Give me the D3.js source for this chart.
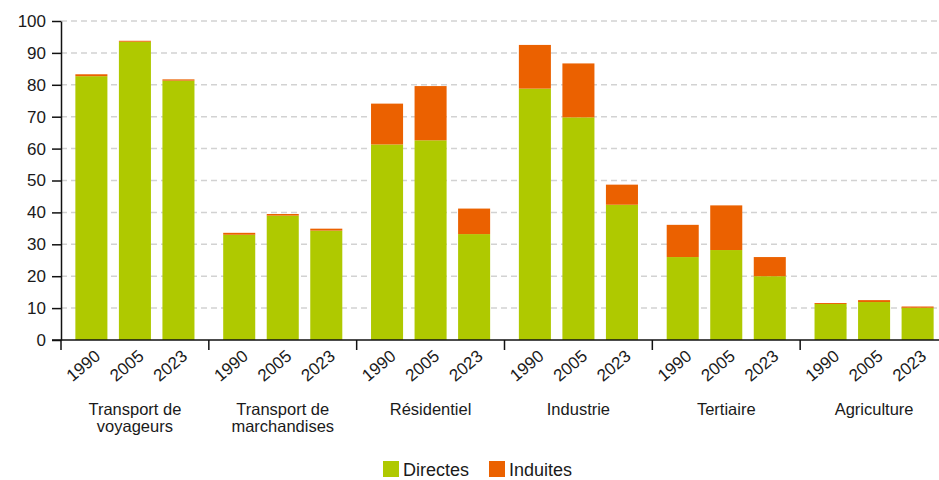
<!DOCTYPE html>
<html>
<head>
<meta charset="utf-8">
<script src="https://cdn.jsdelivr.net/npm/d3@7"></script>
<style>
  body { margin: 0; background: #fff; }
  text { font-family: "Liberation Sans", Arial, sans-serif; fill: #1a1a1a; }
</style>
</head>
<body>
<div class="chart"></div>
<script>
const categories = ["Transport de voyageurs", "Transport de marchandises", "Résidentiel", "Industrie", "Tertiaire", "Agriculture"];
const categoryLines = [["Transport de", "voyageurs"], ["Transport de", "marchandises"], ["Résidentiel"], ["Industrie"], ["Tertiaire"], ["Agriculture"]];
const years = ["1990", "2005", "2023"];
// values per category, in year order
const directes = [
  [82.7, 93.5, 81.3],
  [33.0, 39.0, 34.3],
  [61.3, 62.6, 33.2],
  [78.8, 69.8, 42.4],
  [26.0, 28.2, 20.0],
  [11.3, 11.9, 10.1]
];
const induites = [
  [0.6, 0.3, 0.4],
  [0.6, 0.5, 0.6],
  [12.8, 17.0, 8.0],
  [13.7, 16.9, 6.3],
  [10.1, 14.0, 6.0],
  [0.3, 0.6, 0.4]
];
const yTicks = [0, 10, 20, 30, 40, 50, 60, 70, 80, 90, 100];
const seriesNames = ["Directes", "Induites"];
const colors = ["#afc900", "#eb6100"];

const W = 939, H = 480;
const margin = { left: 61, right: 948, top: 21, bottom: 340 };

const svg = d3.select(".chart").append("svg")
  .attr("width", W).attr("height", H);

const y = d3.scaleLinear().domain([0, 100]).range([margin.bottom, margin.top]);
const xGroup = d3.scaleBand().domain(categories).range([margin.left, margin.right]).padding(0);
const xYear = d3.scaleBand().domain(years).range([0, xGroup.bandwidth()])
  .paddingInner(0.264).paddingOuter(0.33);

// grid
svg.append("g")
  .selectAll("line")
  .data(yTicks.filter(d => d > 0))
  .enter()
  .append("line")
  .attr("x1", margin.left).attr("x2", W)
  .attr("y1", d => y(d)).attr("y2", d => y(d))
  .attr("stroke", "#d2d2d2")
  .attr("stroke-width", 1.5)
  .attr("stroke-dasharray", "6,4");

// bars
const rows = [];
categories.forEach((c, i) => {
  years.forEach((yr, j) => {
    rows.push({ cat: c, year: yr, d: directes[i][j], ind: induites[i][j] });
  });
});

const bars = svg.append("g").selectAll("g").data(rows).enter().append("g")
  .attr("transform", d => `translate(${xGroup(d.cat) + xYear(d.year)},0)`);

bars.append("rect")
  .attr("y", d => y(d.d))
  .attr("height", d => y(0) - y(d.d))
  .attr("width", xYear.bandwidth())
  .attr("fill", colors[0]);

bars.append("rect")
  .attr("y", d => y(d.d + d.ind))
  .attr("height", d => y(d.d) - y(d.d + d.ind))
  .attr("width", xYear.bandwidth())
  .attr("fill", colors[1]);

// y axis
const yAxis = svg.append("g")
  .attr("transform", `translate(${margin.left},0)`)
  .call(d3.axisLeft(y).tickValues(yTicks).tickSize(9).tickSizeOuter(0).tickPadding(6));
yAxis.selectAll("text").style("font-size", "17px");
yAxis.selectAll("line, path").attr("stroke", "#111").attr("stroke-width", 1.5);

// x axis line
svg.append("line")
  .attr("x1", margin.left - 9).attr("x2", W)
  .attr("y1", y(0)).attr("y2", y(0))
  .attr("stroke", "#111").attr("stroke-width", 1.5);

// group separators
svg.append("g").selectAll("line")
  .data(categories)
  .enter()
  .append("line")
  .attr("x1", d => xGroup(d)).attr("x2", d => xGroup(d))
  .attr("y1", y(0)).attr("y2", y(0) + 10)
  .attr("stroke", "#111").attr("stroke-width", 1.5);

// year labels
svg.append("g").selectAll("text")
  .data(rows)
  .enter()
  .append("text")
  .attr("transform", d => {
    const cx = xGroup(d.cat) + xYear(d.year) + xYear.bandwidth() / 2;
    return `translate(${cx + 10},${y(0) + 18}) rotate(-40)`;
  })
  .attr("text-anchor", "end")
  .style("font-size", "17px")
  .text(d => d.year);

// category labels
const catLabels = svg.append("g").selectAll("text")
  .data(categories)
  .enter()
  .append("text")
  .attr("x", d => xGroup(d) + xGroup.bandwidth() / 2)
  .attr("y", 415)
  .attr("text-anchor", "middle")
  .style("font-size", "16.5px");

catLabels.selectAll("tspan")
  .data((d, i) => categoryLines[i])
  .enter()
  .append("tspan")
  .attr("x", function () { return d3.select(this.parentNode).attr("x"); })
  .attr("dy", (d, i) => i === 0 ? 0 : 17)
  .text(d => d);

// legend
const legendX = [383, 489];
const legend = svg.append("g").selectAll("g")
  .data(seriesNames)
  .enter()
  .append("g")
  .attr("transform", (d, i) => `translate(${legendX[i]},461)`);

legend.append("rect")
  .attr("width", 16).attr("height", 16)
  .attr("fill", (d, i) => colors[i]);

legend.append("text")
  .attr("x", 20).attr("y", 15)
  .style("font-size", "18px")
  .text(d => d);
</script>
</body>
</html>
